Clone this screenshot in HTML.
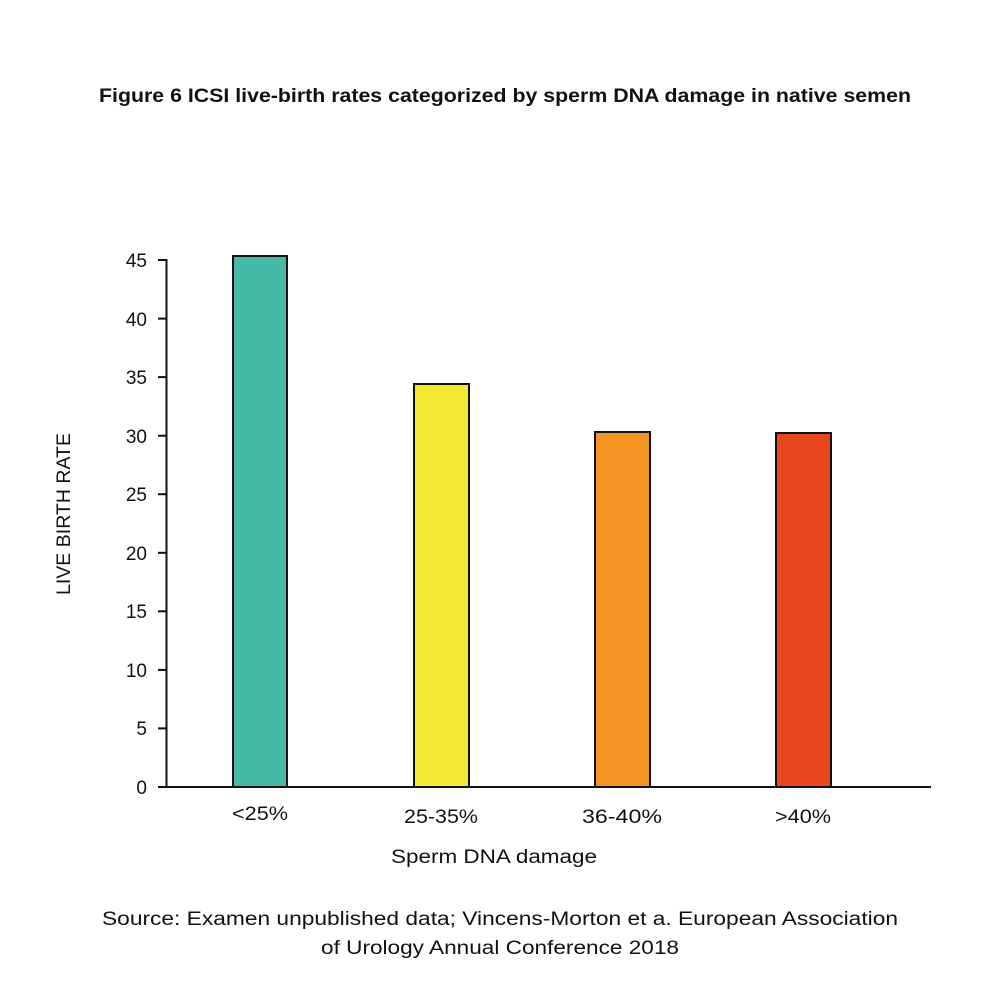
<!DOCTYPE html>
<html><head><style>body{margin:0;background:#fff}</style></head><body>
<svg width="1000" height="1000" xmlns="http://www.w3.org/2000/svg" font-family="Liberation Sans, sans-serif">
<rect width="1000" height="1000" fill="#fff"/>
<text x="505" y="102" text-anchor="middle" font-size="19" font-weight="bold" fill="#111" textLength="812" lengthAdjust="spacingAndGlyphs">Figure 6 ICSI live-birth rates categorized by sperm DNA damage in native semen</text>
<g stroke="#111" stroke-width="2" fill="none">
<line x1="166.5" y1="259" x2="166.5" y2="788"/>
<line x1="158" y1="787" x2="931" y2="787"/>
<line x1="158" y1="260" x2="166" y2="260"/>
<line x1="158" y1="318.6" x2="166" y2="318.6"/>
<line x1="158" y1="377.1" x2="166" y2="377.1"/>
<line x1="158" y1="435.7" x2="166" y2="435.7"/>
<line x1="158" y1="494.2" x2="166" y2="494.2"/>
<line x1="158" y1="552.8" x2="166" y2="552.8"/>
<line x1="158" y1="611.3" x2="166" y2="611.3"/>
<line x1="158" y1="669.9" x2="166" y2="669.9"/>
<line x1="158" y1="728.4" x2="166" y2="728.4"/>
</g>
<g font-size="19" fill="#111" text-anchor="end">
<text x="147" y="267">45</text><text x="147" y="326">40</text><text x="147" y="384">35</text>
<text x="147" y="443">30</text><text x="147" y="501">25</text><text x="147" y="560">20</text>
<text x="147" y="618">15</text><text x="147" y="677">10</text><text x="147" y="735">5</text>
<text x="147" y="794">0</text>
</g>
<g stroke="#111" stroke-width="2">
<rect x="233" y="256" width="54" height="531" fill="#45b9a8"/>
<rect x="414" y="384" width="55" height="403" fill="#f4e833"/>
<rect x="595" y="432" width="55" height="355" fill="#f39322"/>
<rect x="776" y="433" width="55" height="354" fill="#e8461d"/>
</g>
<g font-size="19" fill="#111" text-anchor="middle">
<text x="260" y="820" textLength="56" lengthAdjust="spacingAndGlyphs">&lt;25%</text>
<text x="441" y="823" textLength="74" lengthAdjust="spacingAndGlyphs">25-35%</text>
<text x="622" y="823" textLength="80" lengthAdjust="spacingAndGlyphs">36-40%</text>
<text x="803" y="823" textLength="56" lengthAdjust="spacingAndGlyphs">&gt;40%</text>
<text x="494" y="863" textLength="206" lengthAdjust="spacingAndGlyphs">Sperm DNA damage</text>
<text x="70" y="514" transform="rotate(-90 70 514)" textLength="162" lengthAdjust="spacingAndGlyphs">LIVE BIRTH RATE</text>
<text x="500" y="925" textLength="796" lengthAdjust="spacingAndGlyphs">Source: Examen unpublished data; Vincens-Morton et a. European Association</text>
<text x="500" y="954" textLength="358" lengthAdjust="spacingAndGlyphs">of Urology Annual Conference 2018</text>
</g>
</svg>
</body></html>
